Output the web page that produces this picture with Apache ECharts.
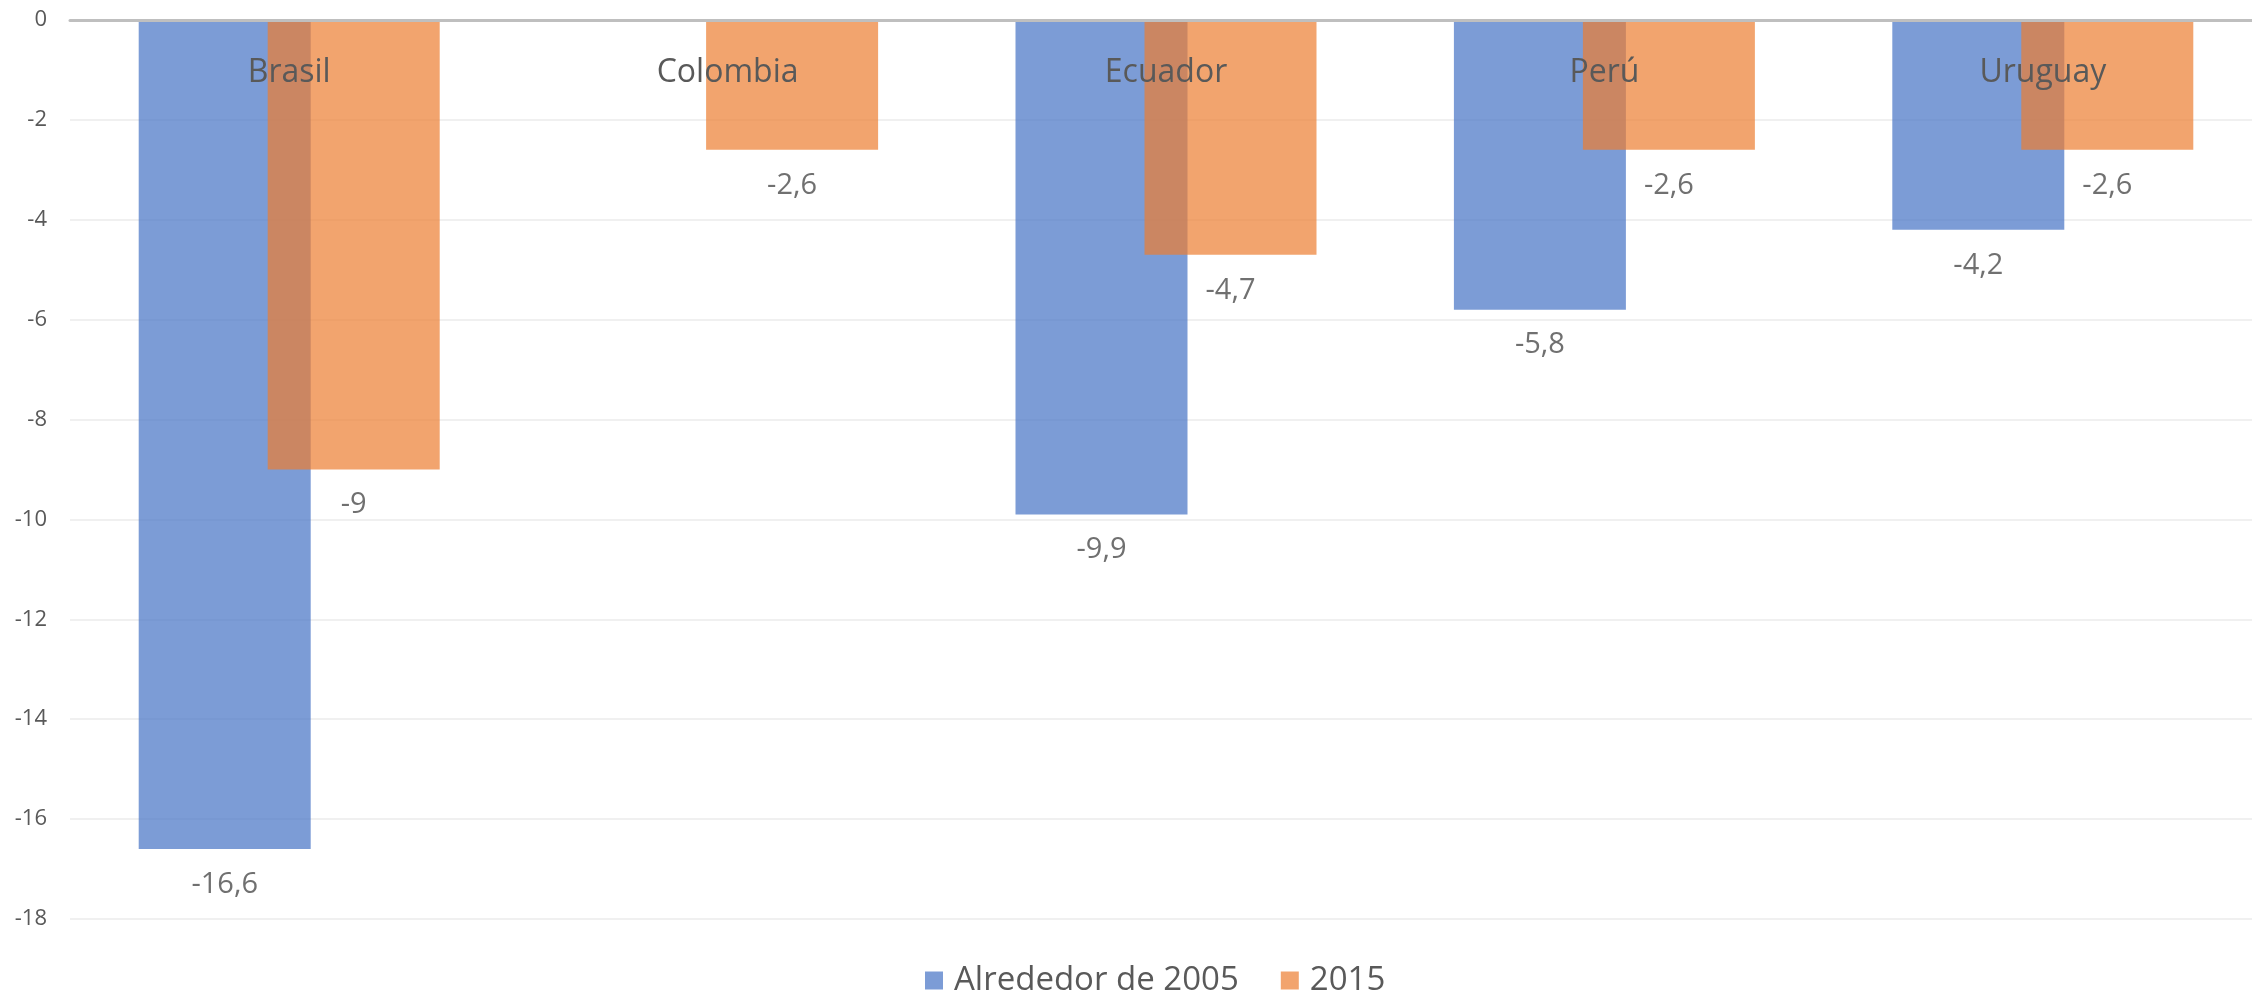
<!DOCTYPE html>
<html>
<head>
<meta charset="utf-8">
<title>chart</title>
<script src="https://cdn.jsdelivr.net/npm/echarts@6/dist/echarts.min.js"></script>
<style>
	html, body { margin: 0; padding: 0; background: #fff; }
	#chart { width: 2252px; height: 994px; }
</style>
</head>
<body>
<div id="chart"></div>
<script>
'use strict';

var countries = ['Brasil', 'Colombia', 'Ecuador', 'Perú', 'Uruguay'];
var seriesNames = ['Alrededor de 2005', '2015'];
var around2005 = [-16.6, null, -9.9, -5.8, -4.2];
var year2015 = [-9, -2.6, -4.7, -2.6, -2.6];


(function(window, undefined){
	
	var font = '"Open Sans", "Noto Sans", sans-serif';
	
	/**
	 * 数值标签，小数点用逗号
	 * @param {Object} p
	 * @return {String}
	 */
	function commaLabel(p){
		return p.value == null ? '' : String(p.value).replace('.', ',');
	}
	
	/**
	 * 创建柱子系列
	 * @param {String} name
	 * @param {Array} data
	 * @param {String} color
	 */
	function barSeries(name, data, color){
		return {
			name: name,
			type: 'bar',
			data: data,
			barWidth: 172,
			barGap: '-25%',
			itemStyle: { color: color, opacity: 0.7 },
			label: {
				show: true,
				position: 'bottom',
				distance: 21,
				formatter: commaLabel,
				color: '#333',
				fontSize: 29,
				fontFamily: font,
			},
		};
	}
	
	var option = {
		animation: false,
		backgroundColor: '#fff',
		grid: {
			left: 70, top: 20, width: 2192, bottom: 75,
			containLabel: false,
			outerBoundsMode: 'none',
		},
		legend: {
			bottom: -8,
			left: 920,
			icon: 'rect',
			itemWidth: 18,
			itemHeight: 18,
			itemGap: 42,
			textStyle: { color: '#595959', fontSize: 33, fontFamily: font, padding: [0, 0, 0, 6] },
			data: seriesNames,
		},
		xAxis: {
			type: 'category',
			position: 'top',
			data: countries,
			z: 10,
			axisLine: { lineStyle: { color: '#bfbfbf', width: 3 } },
			axisTick: { show: false },
			axisLabel: {
				inside: true,
				margin: 37,
				color: '#595959',
				fontSize: 32,
				fontFamily: font,
			},
		},
		yAxis: {
			type: 'value',
			min: -18,
			max: 0,
			interval: 2,
			axisLine: { show: false },
			axisTick: { show: false },
			splitLine: { lineStyle: { color: '#ebebeb', width: 1.5 } },
			axisLabel: { color: '#595959', fontSize: 22, fontFamily: font, margin: 23 },
		},
		series: [
			barSeries(seriesNames[0], around2005, '#4472C4'),
			barSeries(seriesNames[1], year2015, '#ED7D31'),
		],
	};
	
	echarts.init(document.getElementById('chart')).setOption(option);
	
})(window, undefined);
</script>
</body>
</html>
